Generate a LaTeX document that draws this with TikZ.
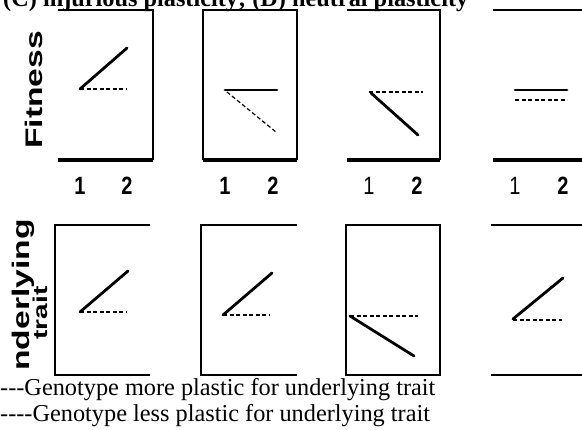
\documentclass[tikz,border=0pt]{standalone}
\usepackage{fontspec}
\setmainfont{Liberation Serif}[Ligatures=TeXOff]
\setsansfont{Liberation Sans}
\tikzset{
  frame/.style={line width=1.6pt},
  baseline/.style={line width=3.5pt},
  moreplastic/.style={line width=2.8pt, line cap=round},
  lessplastic/.style={line width=1.2pt, dash pattern=on 4pt off 2.5pt},
  axlabel/.style={rotate=90, anchor=base, inner sep=0pt,
    font=\sffamily\bfseries\fontsize{24}{24}\selectfont},
  numbold/.style={anchor=base, inner sep=0pt,
    font=\sffamily\bfseries\fontsize{25}{25}\selectfont},
  numthin/.style={anchor=base, inner sep=0pt,
    font=\sffamily\fontsize{25}{25}\selectfont},
  legend/.style={anchor=base west, inner sep=0pt,
    font=\fontsize{24.3}{26}\selectfont}
}
\begin{document}
\begin{tikzpicture}[x=1pt, y=-1pt]
\useasboundingbox (0,0) rectangle (582,430);
\node[anchor=base west, inner sep=0pt, font=\bfseries\fontsize{24.3}{26}\selectfont] (title) at (3,7)
  {(C) injurious plasticity; (D) neutral plasticity};
% fitness row
\draw[frame] (58,10) -- (153,10) -- (153,160);
\draw[baseline] (58,160) -- (153,160);
\draw[frame] (203,160) -- (203,10) -- (297,10) -- (297,160);
\draw[baseline] (203,160) -- (297,160);
\draw[frame] (347,10) -- (440,10) -- (440,160);
\draw[baseline] (347,160) -- (440,160);
\draw[frame] (493,10) -- (582,10);
\draw[baseline] (493,160) -- (582,160);
\draw[moreplastic] (80,89) -- (127,48);
\draw[lessplastic] (80,89) -- (127,89);
\draw[moreplastic] (225,90) -- (277,90);
\draw[lessplastic] (227,92) -- (276,132);
\draw[lessplastic] (369,92) -- (423,92);
\draw[moreplastic] (371,93) -- (418,135);
\draw[moreplastic] (515,90) -- (567,90);
\draw[lessplastic] (515,100) -- (567,100);
\foreach \x/\n/\w in {80/1/numbold, 127/2/numbold, 225/1/numbold, 273/2/numbold,
                      369/1/numthin, 417/2/numbold, 515/1/numthin, 563/2/numbold}{
  \node[\w] at (\x,195) {\scalebox{0.8}[1]{\n}};
}
\node[axlabel] (fitness) at (42,90) {\scalebox{1.4}[1]{Fitness}};
% underlying trait row
\draw[frame] (150,225) -- (55,225) -- (55,375) -- (150,375);
\draw[frame] (297,225) -- (201,225) -- (201,375) -- (297,375);
\draw[frame] (346,225) rectangle (440,375);
\draw[frame] (582,225) -- (491,225);
\draw[frame] (491,375) -- (582,375);
\draw[moreplastic] (80,312) -- (128,271);
\draw[lessplastic] (80,312) -- (127,312);
\draw[moreplastic] (223,315) -- (272,273);
\draw[lessplastic] (223,315) -- (270,315);
\draw[lessplastic] (350,316) -- (418,316);
\draw[moreplastic] (350,316) -- (414,356);
\draw[moreplastic] (513,319) -- (563,278);
\draw[lessplastic] (513,320) -- (562,320);
\node[axlabel] (underlying) at (30,295) {\scalebox{1.4}[1]{nderlying}};
\node[axlabel, font=\sffamily\bfseries\fontsize{20}{20}\selectfont] (trait) at (47,313) {\scalebox{1.4}[1]{trait}};
\node[legend] (more) at (0,396) {---Genotype more plastic for underlying trait};
\node[legend] (less) at (0,422) {----Genotype less plastic for underlying trait};
\end{tikzpicture}
\end{document}
